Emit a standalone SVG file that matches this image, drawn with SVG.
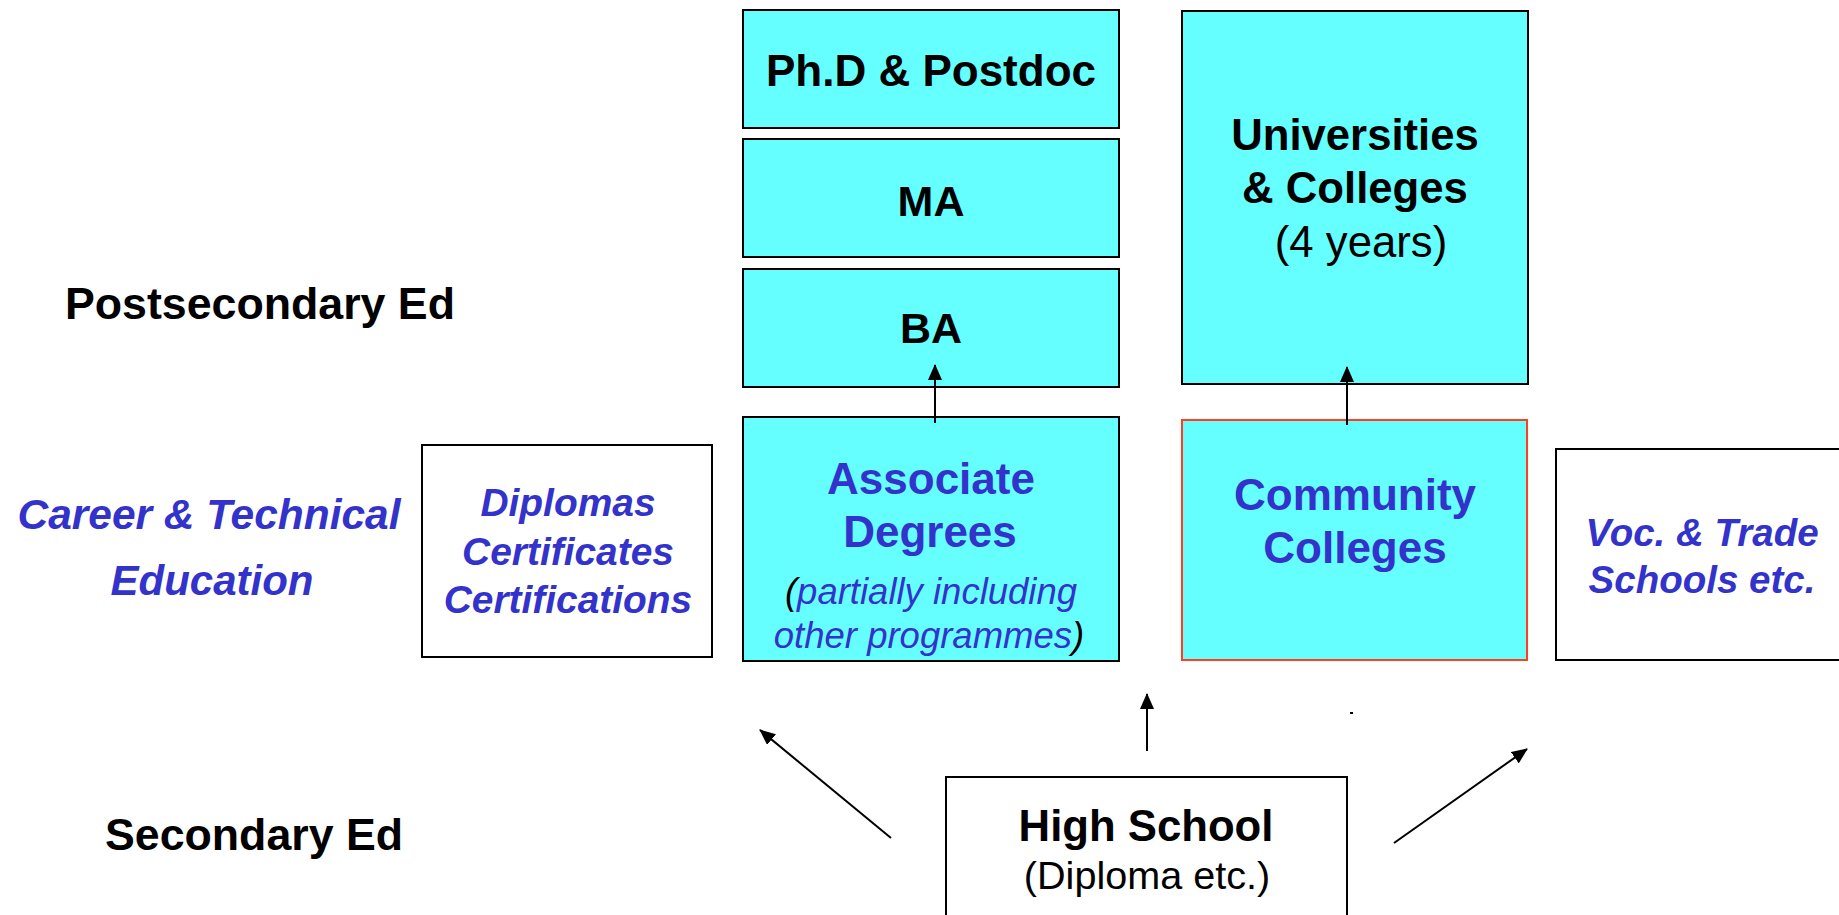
<svg xmlns="http://www.w3.org/2000/svg" width="1839" height="915" viewBox="0 0 1839 915">
  <defs>
    <marker id="arrow" markerUnits="userSpaceOnUse" markerWidth="17" markerHeight="14" refX="15" refY="7" orient="auto">
      <path d="M0,0 L16,7 L0,14 z" fill="#000"/>
    </marker>
    <style>
      .box { stroke: #000; stroke-width: 2; }
      .cyan { fill: #66FFFF; }
      .white { fill: #FFFFFF; }
      .cc { stroke: #FF3D1F; }
      .t { font-family: "Liberation Sans", Arial, sans-serif; text-anchor: middle; }
      .b { font-weight: bold; }
      .i { font-style: italic; }
      .blk { fill: #000; }
      .blue { fill: #3333CC; }
      .conn line { stroke: #000; stroke-width: 2; marker-end: url(#arrow); }
    </style>
  </defs>
  <rect width="1839" height="915" fill="#FFFFFF"/>

  <!-- level labels -->
  <g id="label-postsecondary">
    <text class="t b blk" x="260" y="319" font-size="44.5" textLength="390" lengthAdjust="spacingAndGlyphs">Postsecondary Ed</text>
  </g>
  <g id="label-secondary">
    <text class="t b blk" x="254" y="850" font-size="44.3" textLength="298" lengthAdjust="spacingAndGlyphs">Secondary Ed</text>
  </g>
  <g id="label-cte">
    <text class="t b i blue" x="209" y="529" font-size="42" textLength="383" lengthAdjust="spacingAndGlyphs">Career &amp; Technical</text>
    <text class="t b i blue" x="212" y="595" font-size="42" textLength="203" lengthAdjust="spacingAndGlyphs">Education</text>
  </g>

  <!-- academic track -->
  <g id="phd">
    <rect class="box cyan" x="743" y="10" width="376" height="118"/>
    <text class="t b blk" x="931" y="86" font-size="43.5" textLength="330" lengthAdjust="spacingAndGlyphs">Ph.D &amp; Postdoc</text>
  </g>
  <g id="ma">
    <rect class="box cyan" x="743" y="139" width="376" height="118"/>
    <text class="t b blk" x="931" y="216" font-size="43">MA</text>
  </g>
  <g id="ba">
    <rect class="box cyan" x="743" y="269" width="376" height="118"/>
    <text class="t b blk" x="931" y="343" font-size="43">BA</text>
  </g>
  <g id="universities">
    <rect class="box cyan" x="1182" y="11" width="346" height="373"/>
    <text class="t b blk" x="1355" y="150" font-size="43.7">Universities</text>
    <text class="t b blk" x="1355" y="203" font-size="43.7">&amp; Colleges</text>
    <text class="t blk" x="1361" y="257" font-size="43.7">(4 years)</text>
  </g>

  <!-- career and technical track -->
  <g id="diplomas">
    <rect class="box white" x="422" y="445" width="290" height="212"/>
    <text class="t b i blue" x="568" y="516" font-size="38.9">Diplomas</text>
    <text class="t b i blue" x="568" y="565" font-size="38.9">Certificates</text>
    <text class="t b i blue" x="568" y="613" font-size="38.9">Certifications</text>
  </g>
  <g id="associate">
    <rect class="box cyan" x="743" y="417" width="376" height="244"/>
    <text class="t b blue" x="931" y="494" font-size="44">Associate</text>
    <text class="t b blue" x="930" y="547" font-size="44">Degrees</text>
    <text class="t i blue" x="931" y="604" font-size="36.5"><tspan class="blk">(</tspan>partially including</text>
    <text class="t i blue" x="929" y="648" font-size="36.5">other programmes<tspan class="blk">)</tspan></text>
  </g>
  <g id="community">
    <rect class="box cyan cc" x="1182" y="420" width="345" height="240"/>
    <text class="t b blue" x="1355" y="510" font-size="44">Community</text>
    <text class="t b blue" x="1355" y="563" font-size="44">Colleges</text>
  </g>
  <g id="voc">
    <rect class="box white" x="1556" y="449" width="300" height="211"/>
    <text class="t b i blue" x="1702" y="546" font-size="38.5">Voc. &amp; Trade</text>
    <text class="t b i blue" x="1702" y="593" font-size="38.5">Schools etc.</text>
  </g>

  <!-- secondary level -->
  <g id="highschool">
    <rect class="box white" x="946" y="777" width="401" height="150"/>
    <text class="t b blk" x="1146" y="841" font-size="43.7">High School</text>
    <text class="t blk" x="1147" y="889" font-size="39.6">(Diploma etc.)</text>
  </g>

  <!-- connectors -->
  <g id="connectors" class="conn">
    <line x1="935" y1="423" x2="935" y2="365"/>
    <line x1="1347" y1="425" x2="1347" y2="367"/>
    <line x1="891" y1="838" x2="760" y2="730"/>
    <line x1="1147" y1="751" x2="1147" y2="694"/>
    <line x1="1394" y1="843" x2="1527" y2="749"/>
  </g>
  <rect x="1350" y="712" width="3" height="2" fill="#000"/>
</svg>
